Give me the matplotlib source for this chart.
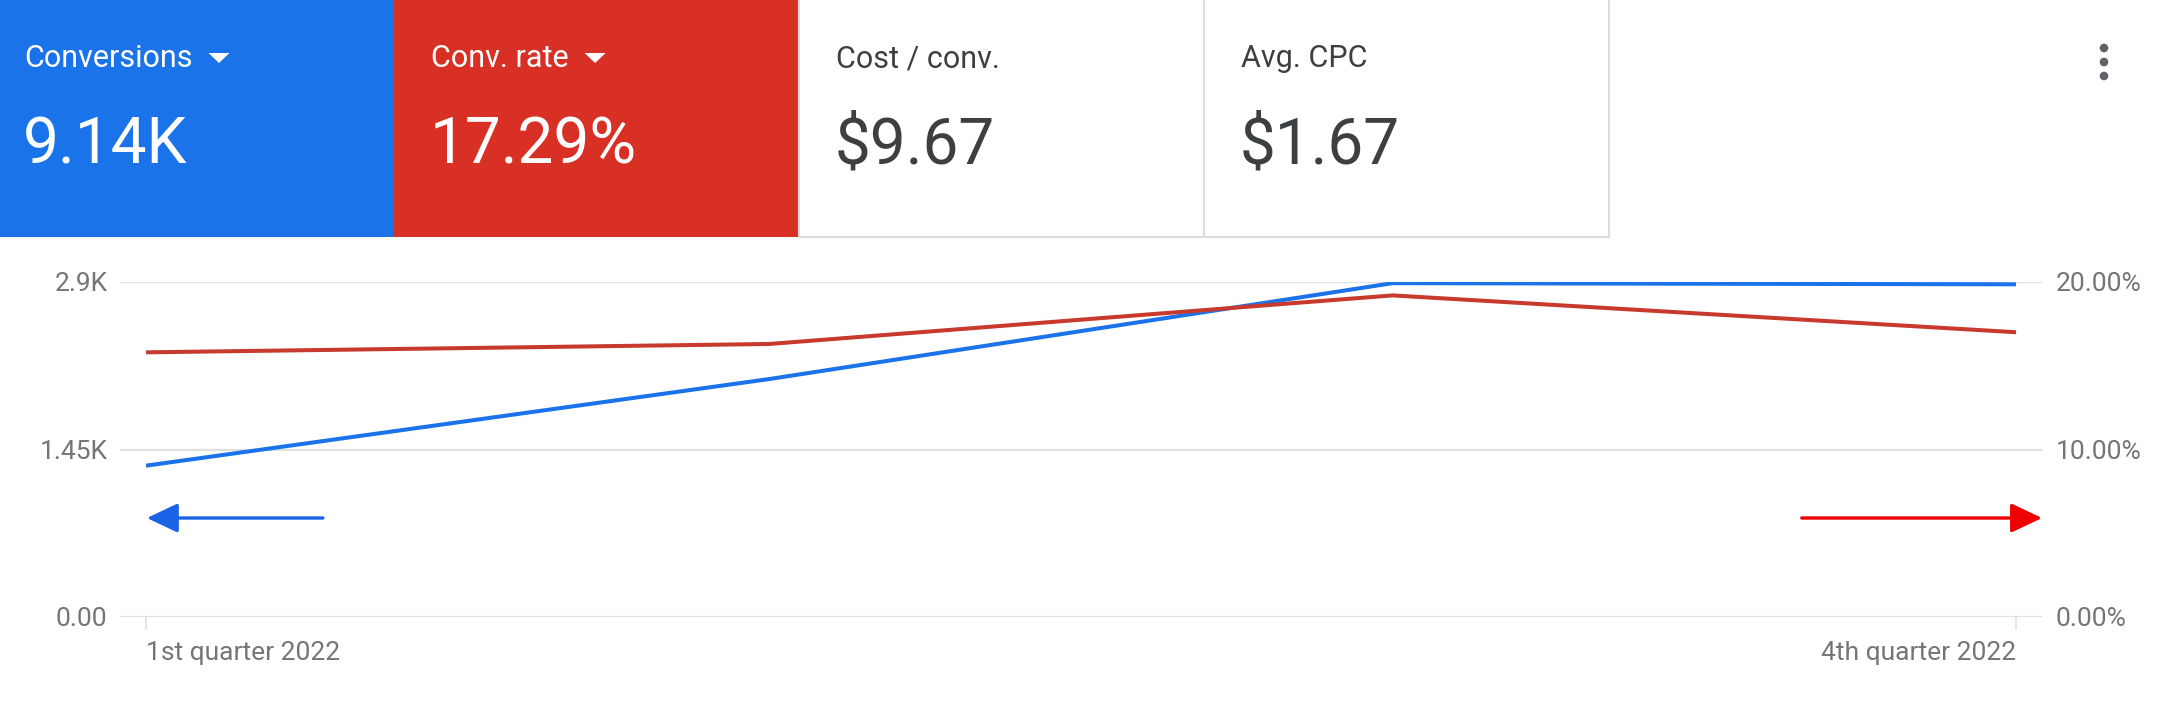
import matplotlib.pyplot as plt
from matplotlib.patches import Rectangle, Circle, Polygon

plt.rcParams['font.family'] = ['Roboto', 'DejaVu Sans']

# Data
quarters = ['1st quarter 2022', '2nd quarter 2022', '3rd quarter 2022', '4th quarter 2022']
conversions_k = [1.31, 2.06, 2.89, 2.88]
conv_rate = [15.8, 16.3, 19.2, 17.0]

card_titles = ['Conversions', 'Conv. rate', 'Cost / conv.', 'Avg. CPC']
card_values = ['9.14K', '17.29%', '$9.67', '$1.67']
card_colors = ['#1a73e8', '#d93025', 'white', 'white']
card_selected = [True, True, False, False]

left_ticks = [0, 1.45, 2.9]
left_labels = ['0.00', '1.45K', '2.9K']
right_ticks = [0, 10, 20]
right_labels = ['0.00%', '10.00%', '20.00%']

W, H = 2164, 722
fig = plt.figure(figsize=(W / 100, H / 100), dpi=100)

# chart area (pixel layout: gridlines 120..2042, y 282..617)
ax = fig.add_axes([120 / W, 1 - 617 / H, 1922 / W, 335 / H])
ax2 = ax.twinx()
xs = list(range(len(quarters)))
unit = (2016 - 146) / 3
ax.set_xlim(-(146 - 120) / unit, 3 + (2042 - 2016) / unit)
ax.set_ylim(0, 2.9)
ax2.set_ylim(0, 20)

grid_c = '#e0e0e0'
for t in left_ticks:
    ax.axhline(t, color=grid_c, lw=1.6, zorder=0)

ax.plot(xs, conversions_k, color='#1a73e8', lw=2.9, solid_capstyle='butt', zorder=3)
ax2.plot(xs, conv_rate, color='#c83a2d', lw=2.9, solid_capstyle='butt', zorder=3)

for a in (ax, ax2):
    for s in a.spines.values():
        s.set_visible(False)

lab_c = '#757575'
ax.set_yticks(left_ticks)
ax.set_yticklabels(left_labels)
ax.tick_params(axis='y', length=0, pad=9, labelsize=19, labelcolor=lab_c)
ax2.set_yticks(right_ticks)
ax2.set_yticklabels(right_labels)
ax2.tick_params(axis='y', length=0, pad=10, labelsize=19, labelcolor=lab_c)

ax.set_xticks([xs[0], xs[-1]])
ax.set_xticklabels([quarters[0], quarters[-1]])
ax.tick_params(axis='x', length=9, width=1.2, color=grid_c, pad=8, labelsize=19,
               labelcolor=lab_c)
xl = ax.get_xticklabels()
xl[0].set_ha('left')
xl[1].set_ha('right')

# arrows pointing to the axes
ax.annotate('', xy=(0.014, 0.2955), xytext=(0.1056, 0.2955), xycoords='axes fraction',
            arrowprops=dict(arrowstyle='-|>,head_length=0.95,head_width=0.45',
                            mutation_scale=20, lw=2.4, color='#1a62e6',
                            shrinkA=0, shrinkB=0))
ax.annotate('', xy=(1.0, 0.2955), xytext=(0.875, 0.2955), xycoords='axes fraction',
            arrowprops=dict(arrowstyle='-|>,head_length=0.95,head_width=0.45',
                            mutation_scale=20, lw=2.4, color='#ee0000',
                            shrinkA=0, shrinkB=0), annotation_clip=False)

# scorecards overlay, pixel units
top = fig.add_axes([0, 0, 1, 1], zorder=5)
top.set_xlim(0, W)
top.set_ylim(H, 0)
top.axis('off')
top.patch.set_alpha(0)

card_x = [0, 393, 799, 1204]
card_w = [393, 406, 405, 405]
text_dx = [24, 38, 37, 37]
card_h = 237
titles = []
for i in range(len(card_titles)):
    x0 = card_x[i]
    if card_selected[i]:
        top.add_patch(Rectangle((x0, 0), card_w[i], card_h, facecolor=card_colors[i],
                                edgecolor='none'))
        fg = 'white'
    else:
        top.add_patch(Rectangle((x0, -2), card_w[i], card_h + 2, facecolor='white',
                                edgecolor='#dadce0', lw=1.5))
        fg = '#3c4043'
    t = top.text(x0 + text_dx[i], 67, card_titles[i], color=fg, fontsize=22,
                 va='baseline', ha='left')
    titles.append(t)
    top.text(x0 + text_dx[i] - 1, 164, card_values[i], color=fg, fontsize=46,
             va='baseline', ha='left')

# dropdown triangles right after the selected titles
fig.canvas.draw()
for i, t in enumerate(titles):
    if card_selected[i]:
        bb = t.get_window_extent()
        tx = bb.x1 + 16
        top.add_patch(Polygon([(tx, 53), (tx + 21, 53), (tx + 10.5, 63)], closed=True,
                              facecolor='white', edgecolor='none'))

for yy in (48, 62, 76):
    top.add_patch(Circle((2104, yy), 3.6, color='#5f6368'))

fig.savefig('out.png', dpi=100, facecolor='white')
